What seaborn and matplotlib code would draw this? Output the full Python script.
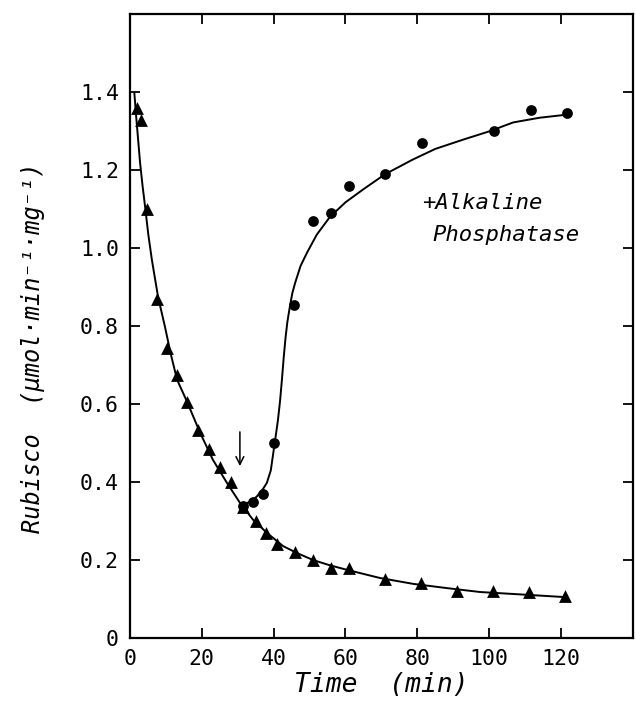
import numpy as np
import pandas as pd
import matplotlib
matplotlib.use("Agg")
import matplotlib.pyplot as plt
import seaborn as sns

# control (triangles)
ctrl_time = [2, 3, 4.7, 7.5, 10.3, 13, 16, 19, 22, 25, 28, 31.5, 35, 38, 41,
             46, 51, 56, 61, 71, 81, 91, 101, 111, 121]
ctrl_rate = [1.36, 1.33, 1.10, 0.87, 0.745, 0.675, 0.605, 0.535, 0.485, 0.44, 0.40,
             0.335, 0.30, 0.27, 0.242, 0.221, 0.20, 0.18, 0.18, 0.152, 0.141,
             0.121, 0.121, 0.118, 0.108]

# + alkaline phosphatase (circles)
ap_time = [31.5, 34.3, 37, 40.2, 45.6, 51, 56, 61, 71, 81.3, 101.4, 111.7, 121.7]
ap_rate = [0.34, 0.35, 0.37, 0.50, 0.855, 1.07, 1.09, 1.16, 1.19, 1.27, 1.30,
           1.355, 1.346]

# fitted curves
ctrl_fit_time = [1.2, 1.7, 2.3, 2.8, 3.5, 4.2, 5.1, 6.1, 7.8, 9.7, 11.4, 13.1,
                 15.9, 19.5, 23.1, 27, 30.6, 34.3, 38.1, 42.6, 46.5, 51, 55.5,
                 60.4, 69.6, 78.8, 88.3, 97.5, 106.7, 121]
ctrl_fit_rate = [1.40, 1.34, 1.275, 1.22, 1.16, 1.107, 1.035, 0.97, 0.876, 0.80,
                 0.727, 0.663, 0.606, 0.527, 0.457, 0.398, 0.347, 0.303, 0.27,
                 0.236, 0.218, 0.20, 0.187, 0.175, 0.154, 0.139, 0.128, 0.118,
                 0.113, 0.105]
ap_fit_time = [31.5, 33.5, 35.3, 37, 38.1, 39.2, 39.9, 40.6, 41.2, 41.8, 42.3,
               42.8, 43.3, 43.8, 44.5, 45.2, 46, 47.5, 49.3, 52, 55.7, 60, 64.9,
               71, 78.8, 85, 92.8, 100, 106.7, 114, 121.7]
ap_fit_rate = [0.342, 0.35, 0.363, 0.382, 0.398, 0.43, 0.475, 0.52, 0.56, 0.61,
               0.663, 0.72, 0.77, 0.81, 0.85, 0.885, 0.912, 0.955, 0.989, 1.035,
               1.081, 1.118, 1.151, 1.19, 1.228, 1.255, 1.279, 1.30, 1.323,
               1.335, 1.343]

x_ticks = [0, 20, 40, 60, 80, 100, 120]
y_ticks = [0, 0.2, 0.4, 0.6, 0.8, 1.0, 1.2, 1.4]
y_ticklabels = ["0", "0.2", "0.4", "0.6", "0.8", "1.0", "1.2", "1.4"]

sns.set_style("ticks")
plt.rcParams["font.family"] = ["DejaVu Sans Mono", "DejaVu Sans"]
plt.rcParams["axes.linewidth"] = 1.6
for key in ["text.color", "axes.labelcolor", "axes.edgecolor", "xtick.color", "ytick.color"]:
    plt.rcParams[key] = "black"

fig = plt.figure(figsize=(6.36, 7.06), dpi=100)
ax = fig.add_axes([0.2044, 0.0963, 0.7906, 0.8832])

sns.lineplot(x=ctrl_fit_time, y=ctrl_fit_rate, ax=ax, color="black", lw=1.4, sort=False)
sns.lineplot(x=ap_fit_time, y=ap_fit_rate, ax=ax, color="black", lw=1.4, sort=False)
sns.scatterplot(x=ctrl_time, y=ctrl_rate, ax=ax, marker="^", s=85, color="black",
                edgecolor="black", linewidth=0, zorder=3)
sns.scatterplot(x=ap_time, y=ap_rate, ax=ax, marker="o", s=60, color="black",
                edgecolor="black", linewidth=0, zorder=3)

# arrow where phosphatase was added
ax.annotate("", xy=(30.6, 0.434), xytext=(30.6, 0.536),
            arrowprops=dict(arrowstyle="->", color="black", lw=1.1,
                            mutation_scale=14))

ax.text(81.3, 1.117, "+Alkaline", fontsize=16, style="italic", va="center", ha="left")
ax.text(84.3, 1.035, "Phosphatase", fontsize=16, style="italic", va="center", ha="left")

ax.set_xlim(0, 140)
ax.set_ylim(0, 1.6)
ax.set_xticks(x_ticks)
ax.set_yticks(y_ticks)
ax.set_yticklabels(y_ticklabels)
ax.tick_params(direction="in", top=True, right=True, labeltop=False, labelright=False,
               length=7, width=1.3, labelsize=15.5, pad=8)

ax.set_xlabel("Time  (min)", fontsize=19, style="italic", labelpad=2)
ax.set_ylabel("Rubisco  (\u03bcmol\u00b7min\u207b\u00b9\u00b7mg\u207b\u00b9)", fontsize=17,
              style="italic", labelpad=20)
ax.yaxis.set_label_coords(-0.17, 0.465)

fig.savefig("out.png", dpi=100)
